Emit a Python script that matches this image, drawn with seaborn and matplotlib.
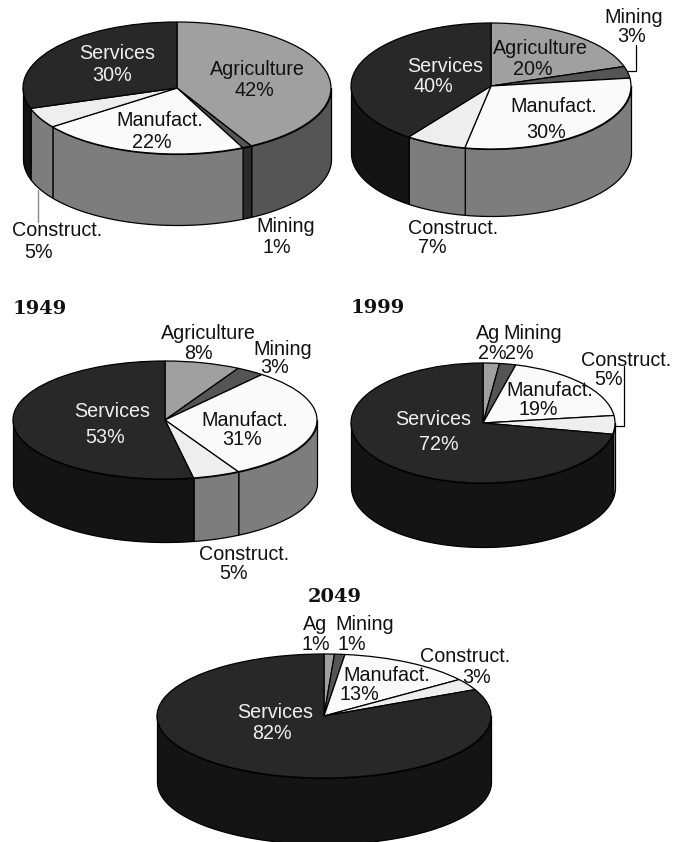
import numpy as np
import seaborn as sns
import matplotlib.pyplot as plt

categories = ["Agriculture", "Mining", "Manufact.", "Construct.", "Services"]
short_categories = ["Ag", "Mining", "Manufact.", "Construct.", "Services"]
shares_top_left = [42, 1, 22, 5, 30]
shares_top_right = [20, 3, 30, 7, 40]
shares_1949 = [8, 3, 31, 5, 53]
shares_1999 = [2, 2, 19, 5, 72]
shares_2049 = [1, 1, 13, 3, 82]
titles = ["1949", "1999", "2049"]

top_colors = ["#a0a0a0", "#555555", "#fafafa", "#eeeeee", "#282828"]
side_colors = ["#555555", "#2a2a2a", "#7d7d7d", "#7d7d7d", "#141414"]

# layout of each pie in pixels: centre x, centre y, x radius, y radius, depth
pies = [
    (shares_top_left, categories, 177, 88, 154, 66, 71),
    (shares_top_right, categories, 491, 86, 140, 63, 67),
    (shares_1949, categories, 165, 420, 152, 59, 63),
    (shares_1999, short_categories, 483, 423, 132, 60, 64),
    (shares_2049, short_categories, 324, 716, 167, 62, 66),
]

# label spots in pixels, per category: name x, name y, value x, value y
label_spots = [
    [(257, 68, 254, 89), (286, 225, 277, 246), (160, 119, 152, 141), (57, 229, 39, 251), (117, 52, 112, 74)],
    [(540, 47, 533, 68), (634, 16, 632, 35), (554, 105, 546, 131), (453, 227, 432, 246), (445, 65, 433, 85)],
    [(208, 332, 198, 352), (283, 348, 275, 366), (245, 419, 242, 438), (244, 553, 234, 572), (112, 410, 105, 436)],
    [(488, 332, 492, 352), (533, 332, 519, 352), (550, 389, 538, 408), (626, 359, 609, 378), (433, 418, 439, 443)],
    [(315, 623, 316, 643), (365, 623, 352, 643), (387, 674, 359, 693), (465, 655, 477, 676), (275, 711, 272, 732)],
]
title_spots = [(39.5, 309), (378, 308), (335, 597)]

W, H = 676, 842
sns.set_theme(style="white")
plt.rcParams['font.family'] = ['Liberation Sans', 'DejaVu Sans']

fig = plt.figure(figsize=(W / 100, H / 100), dpi=100)
pad = 2

for shares, names, cx, cy, rx, ry, depth in pies:
    left, right = cx - rx - pad, cx + rx + pad
    top, bottom = cy - ry - pad, cy + ry + depth + pad
    ax = fig.add_axes([left / W, 1 - bottom / H, (right - left) / W, (bottom - top) / H])
    d = depth / ry

    # side wall: only the front half of the rim shows
    edges = np.cumsum([0] + shares) * 3.6
    for start, stop, col in zip(edges[:-1], edges[1:], side_colors):
        a, b = max(start, 90), min(stop, 270)
        if a < b:
            theta = np.radians(np.linspace(a, b, 80))
            x = np.sin(theta)
            y = np.cos(theta)
            ax.fill_between(x, y, y - d, facecolor=col, edgecolor="black", linewidth=0.9)

    ax.pie(shares, colors=top_colors, startangle=90, counterclock=False, radius=1,
           wedgeprops={"edgecolor": "black", "linewidth": 0.9})
    ax.set_aspect("auto")
    ax.set_xlim(-1 - pad / rx, 1 + pad / rx)
    ax.set_ylim(-1 - d - pad / ry, 1 + pad / ry)
    ax.axis("off")

# overlay in pixel coordinates for text and leader lines
over = fig.add_axes([0, 0, 1, 1], zorder=5)
over.set_xlim(0, W)
over.set_ylim(H, 0)
over.axis("off")

nudge = 1.5
for (shares, names, *_), spots in zip(pies, label_spots):
    for i, (name, val) in enumerate(zip(names, shares)):
        nx, ny, vx, vy = spots[i]
        col = "#f0f0f0" if name == "Services" else "#111111"
        over.text(nx, ny + nudge, name, ha="center", va="center", fontsize=14.2, color=col)
        over.text(vx, vy + nudge, f"{val}%", ha="center", va="center", fontsize=14.2, color=col)

for t, (tx, ty) in zip(titles, title_spots):
    over.text(tx, ty, t, ha="center", va="center", fontsize=14, fontweight="bold",
              family=["DejaVu Serif"], color="#111111")

over.plot([38, 38], [190, 222], color="#888888", lw=1)
over.plot([627, 636, 636], [71, 71, 45], color="black", lw=0.9)
over.plot([615, 624, 624], [426, 426, 366], color="black", lw=0.9)

plt.savefig("out.png", dpi=100)
